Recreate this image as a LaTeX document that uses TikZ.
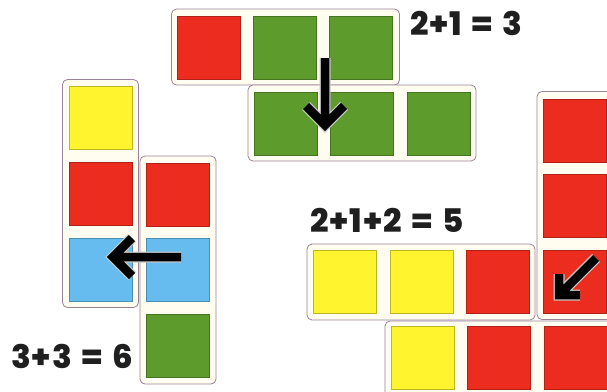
\documentclass[tikz,border=0pt]{standalone}
\usepackage{fontspec}
\setmainfont{Poppins}
\newfontfamily\sumfont{Poppins ExtraBold}[LetterSpace=3,WordSpace=1.3]
\definecolor{tred}{HTML}{EC2C1E}
\definecolor{tgreen}{HTML}{5C9B2C}
\definecolor{tyellow}{HTML}{FFF42E}
\definecolor{tblue}{HTML}{66BCEE}
\definecolor{cream}{HTML}{FFFDF0}
\definecolor{rim}{HTML}{9A8298}
\begin{document}
\begin{tikzpicture}[x=1pt,y=-1pt,
  strip/.style={draw=rim,fill=cream,rounded corners=5pt,line width=0.8pt,inner sep=0pt},
  hstrip/.style={strip,minimum width=228pt,minimum height=76pt},
  vstrip/.style={strip,minimum width=76pt,minimum height=228pt},
  sq/.style={draw=#1!75!black,fill=#1,line width=0.4pt,minimum size=63pt,inner sep=0pt},
  sum/.style={anchor=base west,inner sep=0pt,text=black!88,font=\sumfont\fontsize{32.5}{33}\selectfont},
  arr/.style={line width=8.5pt,black,line join=miter,
    preaction={draw,line width=11pt,gray!45,line join=miter}}]
  \useasboundingbox (0,0) rectangle (607,391);
  \clip (0,0) rectangle (607,391);
  % 2+1 = 3
  \node[hstrip] (a) at (285.5,47) {};
  \node[sq=tred] (a1) at (209,48) {};
  \node[sq=tgreen] (a2) at (285,48) {};
  \node[sq=tgreen] (a3) at (361,48) {};
  \node[hstrip] (b) at (362,123) {};
  \node[sq=tgreen] (b1) at (286,123.5) {};
  \node[sq=tgreen] (b2) at (362,123.5) {};
  \node[sq=tgreen] (b3) at (439,123.5) {};
  \node[sum] (sa) at (410,35) {2+1 = 3};
  % 3+3 = 6
  \node[vstrip] (c) at (100.5,193.5) {};
  \node[sq=tyellow] (c1) at (101,117.5) {};
  \node[sq=tred] (c2) at (101,193.5) {};
  \node[sq=tblue] (c3) at (101,269.5) {};
  \node[vstrip] (d) at (178,270) {};
  \node[sq=tred] (d1) at (177.5,194.5) {};
  \node[sq=tblue] (d2) at (177.5,270) {};
  \node[sq=tgreen] (d3) at (177.5,345.5) {};
  \node[sum] (sc) at (11,368) {3+3 = 6};
  % 2+1+2 = 5
  \node[vstrip] (e) at (575,205.5) {};
  \node[sq=tred] (e1) at (575,130.5) {};
  \node[sq=tred] (e2) at (575,206) {};
  \node[sq=tred] (e3) at (575,282) {};
  \node[hstrip] (f) at (421,282) {};
  \node[sq=tyellow] (f1) at (345,282) {};
  \node[sq=tyellow] (f2) at (421.5,282) {};
  \node[sq=tred] (f3) at (498,282) {};
  \node[hstrip] (g) at (499,359) {};
  \node[sq=tyellow] (g1) at (422.5,358) {};
  \node[sq=tred] (g2) at (498.5,358) {};
  \node[sq=tred] (g3) at (575.5,358) {};
  \node[sum] (se) at (310,232) {2+1+2 = 5};
  % arrows
  \coordinate (p0) at (325,58);
  \coordinate (p1) at (325,125);
  \coordinate (pl) at (306,106);
  \coordinate (pr) at (344,106);
  \draw[arr] (p0)--(p1) (pl)--(p1)--(pr);
  \coordinate (q0) at (181,257);
  \coordinate (q1) at (113,257);
  \coordinate (qu) at (132,238);
  \coordinate (qd) at (132,276);
  \draw[arr] (q0)--(q1) (qu)--(q1)--(qd);
  \coordinate (r0) at (596,258);
  \coordinate (r1) at (559,295);
  \coordinate (ru) at (559,274);
  \coordinate (rr) at (580,295);
  \draw[arr] (r0)--(r1) (ru)--(r1)--(rr);
\end{tikzpicture}
\end{document}
